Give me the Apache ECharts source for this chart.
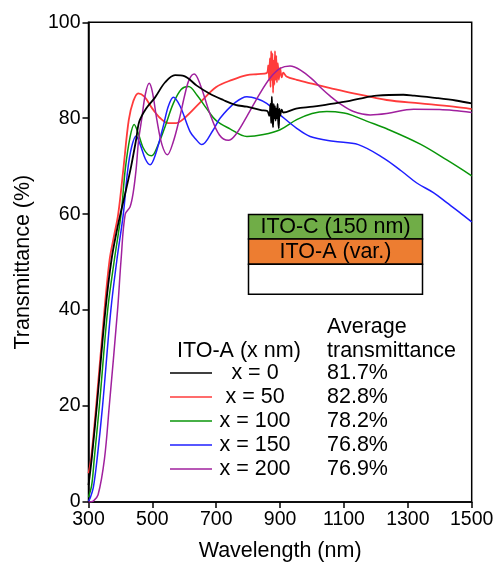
<!DOCTYPE html>
<html>
<head>
<meta charset="utf-8">
<script src="https://cdn.jsdelivr.net/npm/echarts@6/dist/echarts.min.js"></script>
<style>html,body{margin:0;padding:0;background:#fff}#c{width:498px;height:567px}</style>
</head>
<body>
<div id="c"></div>
<script>
// ---- data ----
var seriesNames = ['x = 0', 'x = 50', 'x = 100', 'x = 150', 'x = 200'];
var avgT = ['81.7%', '82.8%', '78.2%', '76.8%', '76.9%'];
var xTicks = [300, 500, 700, 900, 1100, 1300, 1500];
var yTicks = [0, 20, 40, 60, 80, 100];

var wl0 = [300,310,326,353,372,390,405,420,433,449,459,480,508,540,571,600,639,680,722,760,796,840,860,866,870,872,874,876,878,880,882,884,886,888,890,892,894,896,898,900,905,910,950,1003,1050,1109,1150,1203,1286,1320,1391,1450,1500];
var t0  = [3.5,9,20,40,50.5,57,61.5,65.8,69.8,75.5,79.3,82,84.3,87.5,89,88.8,86.8,85.1,83.8,82.8,82.4,81.7,81.5,80.5,83,79,84.5,80,78.1,83,80,82.5,79.5,82,80,83,79.5,77.9,82,80.5,81.8,81.2,82,82.4,82.9,83.5,84.1,84.7,84.9,84.7,84.2,83.7,83.1];

var wl1 = [300,308,324,350,366,380,393,409,426,440,456,475,500,525,550,575,600,650,700,750,796,830,858,863,866,868,870,872,874,876,878,880,882,884,886,888,890,893,896,900,905,910,920,952,1000,1057,1130,1234,1339,1443,1500];
var t1  = [6,9,20,40,50.5,55.5,60,69.3,79.6,83.5,85.2,84.5,82,80,79,79,80,83.3,86.5,88,89,89.2,89.4,91,88,92.5,86.5,94,88,93.5,85.3,92,87,94,88,93,87.5,91.5,88,90.5,88.5,89.5,88.7,88,87.2,86.3,85.2,83.8,83.1,82.4,81.9];

var wl2 = [300,310,318,334,360,381,402,415,430,443,455,470,485,498,515,540,565,590,613,640,670,700,743,796,848,900,952,1000,1046,1100,1130,1171,1234,1339,1422,1500];
var t2  = [1,3.5,9,20,40,50.5,60,69.3,76,78.7,77,74,72.5,72.2,74,78.3,83,86,86.6,84.8,82,79.5,77.8,76.2,76.6,77.6,79.7,81,81.4,81.1,80.5,79.4,77.8,74.6,71.3,68];

var wl3 = [300,305,315,327,344,370,389,409,423,435,449,462,478,493,510,534,550,566,587,618,634,655,690,712,760,796,830,858,900,952,994,1067,1145,1224,1280,1328,1380,1422,1460,1500];
var t3  = [0.2,0.8,3,9,20,40,50.5,60,69.3,74,76.3,74.5,71.5,70.3,72.5,78.3,82.5,84.4,82.5,77.2,75.8,74.5,77.5,80,83.3,84.5,84,83.1,80.7,77.9,76.2,75.2,74.5,71.7,69,66.5,64.5,62.4,60.5,58.4];

var wl4 = [300,315,330,350,365,391,402,415,430,440,449,457,467,478,490,500,514,530,547,565,585,602,615,631,650,680,710,738,760,796,837,870,900,931,965,1003,1030,1057,1088,1130,1182,1234,1318,1400,1443,1500];
var t4  = [0,0.2,1.5,9,20,40,50.5,60,61.5,64.5,69.3,75.5,80,85,87.3,85.5,79.7,74.5,72.4,75,80,85,88,89.2,87,81,76.5,75.4,76.5,80.4,85.2,88.5,90.4,90.9,90,88,86.2,84.6,83,81.4,80.7,81,81.9,81.8,81.6,81.2];

var wls = [wl0, wl1, wl2, wl3, wl4];
var ts = [t0, t1, t2, t3, t4];
var colors = ['#000000', '#FF3B3B', '#0A960A', '#1F1FFF', '#A0209E'];
var widths = [1.8, 1.8, 1.5, 1.5, 1.5];

var FONT = 'Liberation Sans, Arial, sans-serif';

function pairs(w, t) { var r = []; for (var i = 0; i < w.length; i++) r.push([w[i], t[i]]); return r; }

var series = [];
for (var k = 0; k < 5; k++) {
  series.push({
    name: seriesNames[k],
    type: 'line',
    data: pairs(wls[k], ts[k]),
    smooth: 0.35,
    symbol: 'none',
    lineStyle: { color: colors[k], width: widths[k] },
    itemStyle: { color: colors[k] },
    z: k === 0 ? 6 : 5
  });
}

var chart = echarts.init(document.getElementById('c'), null, { renderer: 'canvas' });
chart.setOption({
  animation: false,
  backgroundColor: '#fff',
  grid: { left: 88.5, right: 26.3, top: 22.3, bottom: 64.3, show: true, borderColor: '#000', borderWidth: 1.5, backgroundColor: 'transparent' },
  xAxis: {
    type: 'value', min: 300, max: 1500, interval: 200,
    name: 'Wavelength (nm)', nameLocation: 'middle', nameGap: 38,
    nameTextStyle: { fontFamily: FONT, fontSize: 21.5, color: '#000' },
    axisLine: { show: true, lineStyle: { color: '#000', width: 1.5 } },
    axisTick: { show: true, inside: false, length: 6, lineStyle: { color: '#000', width: 1.5 } },
    axisLabel: { fontFamily: FONT, fontSize: 19.5, color: '#000', margin: 8, formatter: function (v) { return String(v); } },
    splitLine: { show: false }
  },
  yAxis: {
    type: 'value', min: 0, max: 100, interval: 20,
    name: 'Transmittance (%)', nameLocation: 'middle', nameGap: 54,
    nameTextStyle: { fontFamily: FONT, fontSize: 21.5, color: '#000' },
    axisLine: { show: true, lineStyle: { color: '#000', width: 1.5 } },
    axisTick: { show: true, inside: false, length: 6, lineStyle: { color: '#000', width: 1.5 } },
    axisLabel: { fontFamily: FONT, fontSize: 19.5, color: '#000', margin: 8, formatter: function (v) { return String(v); } },
    splitLine: { show: false }
  },
  legend: {
    orient: 'vertical', left: 170, top: 361, itemGap: 0, padding: 0,
    itemWidth: 42, itemHeight: 1.6, icon: 'rect',
    selectedMode: false,
    data: seriesNames,
    formatter: function (name) {
      var i = seriesNames.indexOf(name);
      return '{a|' + name + '}{b|' + avgT[i] + '}';
    },
    textStyle: {
      fontFamily: FONT, fontSize: 21.5, color: '#000', lineHeight: 24,
      rich: {
        a: { fontFamily: FONT, fontSize: 21.5, width: 76, align: 'right', lineHeight: 24, color: '#000' },
        b: { fontFamily: FONT, fontSize: 21.5, padding: [0, 0, 0, 34], lineHeight: 24, color: '#000' }
      }
    }
  },
  graphic: [
    { type: 'text', left: 177, top: 340, style: { text: 'ITO-A (x nm)', font: '21.5px ' + FONT, fill: '#000' } },
    { type: 'text', left: 327, top: 316, style: { text: 'Average', font: '21.5px ' + FONT, fill: '#000' } },
    { type: 'text', left: 327, top: 340, style: { text: 'transmittance', font: '21.5px ' + FONT, fill: '#000' } },
    { type: 'rect', shape: { x: 248.5, y: 214.5, width: 174, height: 24.5 }, style: { fill: '#70AD47', stroke: '#000', lineWidth: 1.5 } },
    { type: 'rect', shape: { x: 248.5, y: 239, width: 174, height: 25.3 }, style: { fill: '#ED7D31', stroke: '#000', lineWidth: 1.5 } },
    { type: 'rect', shape: { x: 248.5, y: 264.3, width: 174, height: 30 }, style: { fill: '#FFFFFF', stroke: '#000', lineWidth: 1.5 } },
    { type: 'text', x: 335.5, y: 227, style: { text: 'ITO-C (150 nm)', font: '21.5px ' + FONT, fill: '#000', align: 'center', verticalAlign: 'middle' } },
    { type: 'text', x: 335.5, y: 252, style: { text: 'ITO-A (var.)', font: '21.5px ' + FONT, fill: '#000', align: 'center', verticalAlign: 'middle' } }
  ],
  series: series
});
</script>
</body>
</html>
